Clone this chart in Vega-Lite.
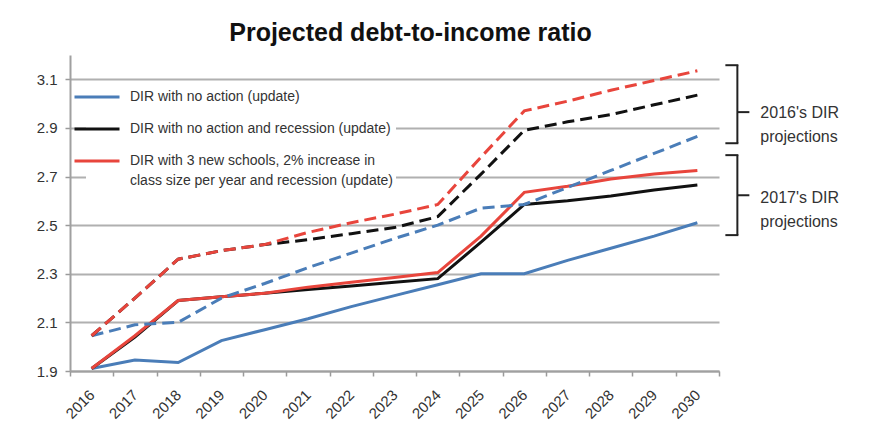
{
  "$schema": "https://vega.github.io/schema/vega-lite/v6.json",
  "width": 649,
  "height": 316,
  "autosize": "none",
  "padding": {"left": 70, "top": 55, "right": 150, "bottom": 74},
  "background": "white",
  "title": {
    "text": "Projected debt-to-income ratio",
    "font": "Liberation Sans",
    "fontSize": 25,
    "fontWeight": "bold",
    "color": "#111111",
    "anchor": "middle",
    "dx": 16,
    "offset": 9
  },
  "config": {
    "view": {"stroke": null},
    "font": "Liberation Sans",
    "style": {"guide-label": {"lineHeight": 20}}
  },
  "datasets": {
    "series": [
      {"year": "2016", "scenario": "A", "vintage": "2017", "value": 1.91},
      {"year": "2017", "scenario": "A", "vintage": "2017", "value": 1.945},
      {"year": "2018", "scenario": "A", "vintage": "2017", "value": 1.935},
      {"year": "2019", "scenario": "A", "vintage": "2017", "value": 2.025},
      {"year": "2020", "scenario": "A", "vintage": "2017", "value": 2.07},
      {"year": "2021", "scenario": "A", "vintage": "2017", "value": 2.115},
      {"year": "2022", "scenario": "A", "vintage": "2017", "value": 2.165},
      {"year": "2023", "scenario": "A", "vintage": "2017", "value": 2.21},
      {"year": "2024", "scenario": "A", "vintage": "2017", "value": 2.255},
      {"year": "2025", "scenario": "A", "vintage": "2017", "value": 2.3},
      {"year": "2026", "scenario": "A", "vintage": "2017", "value": 2.3},
      {"year": "2027", "scenario": "A", "vintage": "2017", "value": 2.355},
      {"year": "2028", "scenario": "A", "vintage": "2017", "value": 2.405},
      {"year": "2029", "scenario": "A", "vintage": "2017", "value": 2.455},
      {"year": "2030", "scenario": "A", "vintage": "2017", "value": 2.51},
      {"year": "2016", "scenario": "B", "vintage": "2017", "value": 1.91},
      {"year": "2017", "scenario": "B", "vintage": "2017", "value": 2.04},
      {"year": "2018", "scenario": "B", "vintage": "2017", "value": 2.19},
      {"year": "2019", "scenario": "B", "vintage": "2017", "value": 2.205},
      {"year": "2020", "scenario": "B", "vintage": "2017", "value": 2.22},
      {"year": "2021", "scenario": "B", "vintage": "2017", "value": 2.235},
      {"year": "2022", "scenario": "B", "vintage": "2017", "value": 2.25},
      {"year": "2023", "scenario": "B", "vintage": "2017", "value": 2.265},
      {"year": "2024", "scenario": "B", "vintage": "2017", "value": 2.28},
      {"year": "2025", "scenario": "B", "vintage": "2017", "value": 2.43},
      {"year": "2026", "scenario": "B", "vintage": "2017", "value": 2.585},
      {"year": "2027", "scenario": "B", "vintage": "2017", "value": 2.6},
      {"year": "2028", "scenario": "B", "vintage": "2017", "value": 2.62},
      {"year": "2029", "scenario": "B", "vintage": "2017", "value": 2.645},
      {"year": "2030", "scenario": "B", "vintage": "2017", "value": 2.665},
      {"year": "2016", "scenario": "C", "vintage": "2017", "value": 1.91},
      {"year": "2017", "scenario": "C", "vintage": "2017", "value": 2.045},
      {"year": "2018", "scenario": "C", "vintage": "2017", "value": 2.19},
      {"year": "2019", "scenario": "C", "vintage": "2017", "value": 2.205},
      {"year": "2020", "scenario": "C", "vintage": "2017", "value": 2.22},
      {"year": "2021", "scenario": "C", "vintage": "2017", "value": 2.245},
      {"year": "2022", "scenario": "C", "vintage": "2017", "value": 2.265},
      {"year": "2023", "scenario": "C", "vintage": "2017", "value": 2.285},
      {"year": "2024", "scenario": "C", "vintage": "2017", "value": 2.305},
      {"year": "2025", "scenario": "C", "vintage": "2017", "value": 2.455},
      {"year": "2026", "scenario": "C", "vintage": "2017", "value": 2.635},
      {"year": "2027", "scenario": "C", "vintage": "2017", "value": 2.66},
      {"year": "2028", "scenario": "C", "vintage": "2017", "value": 2.69},
      {"year": "2029", "scenario": "C", "vintage": "2017", "value": 2.71},
      {"year": "2030", "scenario": "C", "vintage": "2017", "value": 2.725},
      {"year": "2016", "scenario": "A", "vintage": "2016", "value": 2.045},
      {"year": "2017", "scenario": "A", "vintage": "2016", "value": 2.09},
      {"year": "2018", "scenario": "A", "vintage": "2016", "value": 2.1},
      {"year": "2019", "scenario": "A", "vintage": "2016", "value": 2.2},
      {"year": "2020", "scenario": "A", "vintage": "2016", "value": 2.26},
      {"year": "2021", "scenario": "A", "vintage": "2016", "value": 2.325},
      {"year": "2022", "scenario": "A", "vintage": "2016", "value": 2.385},
      {"year": "2023", "scenario": "A", "vintage": "2016", "value": 2.445},
      {"year": "2024", "scenario": "A", "vintage": "2016", "value": 2.5},
      {"year": "2025", "scenario": "A", "vintage": "2016", "value": 2.57},
      {"year": "2026", "scenario": "A", "vintage": "2016", "value": 2.585},
      {"year": "2027", "scenario": "A", "vintage": "2016", "value": 2.655},
      {"year": "2028", "scenario": "A", "vintage": "2016", "value": 2.725},
      {"year": "2029", "scenario": "A", "vintage": "2016", "value": 2.795},
      {"year": "2030", "scenario": "A", "vintage": "2016", "value": 2.865},
      {"year": "2016", "scenario": "B", "vintage": "2016", "value": 2.045},
      {"year": "2017", "scenario": "B", "vintage": "2016", "value": 2.2},
      {"year": "2018", "scenario": "B", "vintage": "2016", "value": 2.36},
      {"year": "2019", "scenario": "B", "vintage": "2016", "value": 2.395},
      {"year": "2020", "scenario": "B", "vintage": "2016", "value": 2.42},
      {"year": "2021", "scenario": "B", "vintage": "2016", "value": 2.44},
      {"year": "2022", "scenario": "B", "vintage": "2016", "value": 2.465},
      {"year": "2023", "scenario": "B", "vintage": "2016", "value": 2.49},
      {"year": "2024", "scenario": "B", "vintage": "2016", "value": 2.535},
      {"year": "2025", "scenario": "B", "vintage": "2016", "value": 2.71},
      {"year": "2026", "scenario": "B", "vintage": "2016", "value": 2.89},
      {"year": "2027", "scenario": "B", "vintage": "2016", "value": 2.925},
      {"year": "2028", "scenario": "B", "vintage": "2016", "value": 2.955},
      {"year": "2029", "scenario": "B", "vintage": "2016", "value": 2.995},
      {"year": "2030", "scenario": "B", "vintage": "2016", "value": 3.035},
      {"year": "2016", "scenario": "C", "vintage": "2016", "value": 2.045},
      {"year": "2017", "scenario": "C", "vintage": "2016", "value": 2.2},
      {"year": "2018", "scenario": "C", "vintage": "2016", "value": 2.36},
      {"year": "2019", "scenario": "C", "vintage": "2016", "value": 2.395},
      {"year": "2020", "scenario": "C", "vintage": "2016", "value": 2.42},
      {"year": "2021", "scenario": "C", "vintage": "2016", "value": 2.47},
      {"year": "2022", "scenario": "C", "vintage": "2016", "value": 2.51},
      {"year": "2023", "scenario": "C", "vintage": "2016", "value": 2.545},
      {"year": "2024", "scenario": "C", "vintage": "2016", "value": 2.585},
      {"year": "2025", "scenario": "C", "vintage": "2016", "value": 2.78},
      {"year": "2026", "scenario": "C", "vintage": "2016", "value": 2.97},
      {"year": "2027", "scenario": "C", "vintage": "2016", "value": 3.01},
      {"year": "2028", "scenario": "C", "vintage": "2016", "value": 3.055},
      {"year": "2029", "scenario": "C", "vintage": "2016", "value": 3.095},
      {"year": "2030", "scenario": "C", "vintage": "2016", "value": 3.135}
    ],
    "spans": [
      {"year": "2030", "top": 3.158, "bottom": 2.837},
      {"year": "2030", "top": 2.788, "bottom": 2.459}
    ],
    "ends": [
      {"year": "2030", "value": 3.158},
      {"year": "2030", "value": 2.837},
      {"year": "2030", "value": 2.788},
      {"year": "2030", "value": 2.459}
    ],
    "notches": [
      {"year": "2030", "value": 2.965},
      {"year": "2030", "value": 2.623}
    ],
    "notes": [
      {"year": "2030", "value": 2.963, "label": "2016's DIR\nprojections"},
      {"year": "2030", "value": 2.613, "label": "2017's DIR\nprojections"}
    ]
  },
  "encoding": {
    "x": {
      "field": "year",
      "type": "ordinal",
      "bandPosition": 0.5,
      "scale": {"type": "band", "paddingInner": 0, "paddingOuter": 0},
      "axis": {
        "title": null,
        "labelAngle": -45,
        "labelAlign": "right",
        "labelBaseline": "middle",
        "labelFontSize": 15,
        "labelColor": "#333333",
        "labelPadding": 16,
        "tickBand": "extent",
        "tickColor": "#9a9a9a",
        "tickSize": 5,
        "tickWidth": 1.5,
        "domainColor": "#a0a0a0",
        "domainWidth": 2,
        "grid": false
      }
    }
  },
  "layer": [
    {
      "data": {"name": "series"},
      "transform": [{"filter": "datum.vintage == '2017'"}],
      "mark": {"type": "line", "strokeWidth": 3},
      "encoding": {
        "y": {
          "field": "value",
          "type": "quantitative",
          "scale": {"domain": [1.9, 3.2], "nice": false, "zero": false},
          "axis": {
            "title": null,
            "values": [1.9, 2.1, 2.3, 2.5, 2.7, 2.9, 3.1],
            "format": ".1f",
            "labelFontSize": 15,
            "labelColor": "#333333",
            "labelFlush": false,
            "labelPadding": 8,
            "tickColor": "#9a9a9a",
            "tickSize": 5,
            "tickWidth": 1.5,
            "domainColor": "#a0a0a0",
            "domainWidth": 2,
            "gridColor": "#b0b0b0",
            "gridWidth": 2
          }
        },
        "color": {
          "field": "scenario",
          "type": "nominal",
          "scale": {"domain": ["A", "B", "C"], "range": ["#4a7db8", "#111111", "#e8453c"]},
          "legend": {
            "orient": "none",
            "legendX": 16,
            "legendY": 31,
            "title": null,
            "symbolType": "M-3,0H3",
            "symbolSize": 225,
            "symbolStrokeWidth": 3,
            "labelOffset": 24,
            "labelFontSize": 14,
            "labelColor": "#333333",
            "rowPadding": 16,
            "padding": 2,
            "fillColor": "white",
            "labelLimit": 400,
            "labelExpr": "datum.label == 'A' ? 'DIR with no action (update)' : datum.label == 'B' ? 'DIR with no action and recession (update)' : ['DIR with 3 new schools, 2% increase in', 'class size per year and recession (update)']"
          }
        }
      }
    },
    {
      "data": {"name": "series"},
      "transform": [{"filter": "datum.vintage == '2016'"}],
      "mark": {"type": "line", "strokeWidth": 3, "strokeDash": [12, 6]},
      "encoding": {
        "y": {"field": "value", "type": "quantitative"},
        "color": {"field": "scenario", "type": "nominal"}
      }
    },
    {
      "data": {"name": "spans"},
      "mark": {"type": "rule", "color": "#222222", "strokeWidth": 2, "xOffset": 40},
      "encoding": {
        "y": {"field": "top", "type": "quantitative"},
        "y2": {"field": "bottom"}
      }
    },
    {
      "data": {"name": "ends"},
      "mark": {"type": "rule", "color": "#222222", "strokeWidth": 2, "xOffset": 28, "x2Offset": 41},
      "encoding": {
        "x2": {"field": "year"},
        "y": {"field": "value", "type": "quantitative"}
      }
    },
    {
      "data": {"name": "notches"},
      "mark": {"type": "rule", "color": "#222222", "strokeWidth": 2, "xOffset": 40, "x2Offset": 52},
      "encoding": {
        "x2": {"field": "year"},
        "y": {"field": "value", "type": "quantitative"}
      }
    },
    {
      "data": {"name": "notes"},
      "mark": {"type": "text", "align": "left", "baseline": "middle", "dx": 63, "fontSize": 16, "lineHeight": 24, "lineBreak": "\n", "color": "#333333"},
      "encoding": {
        "y": {"field": "value", "type": "quantitative"},
        "text": {"field": "label"}
      }
    }
  ]
}
